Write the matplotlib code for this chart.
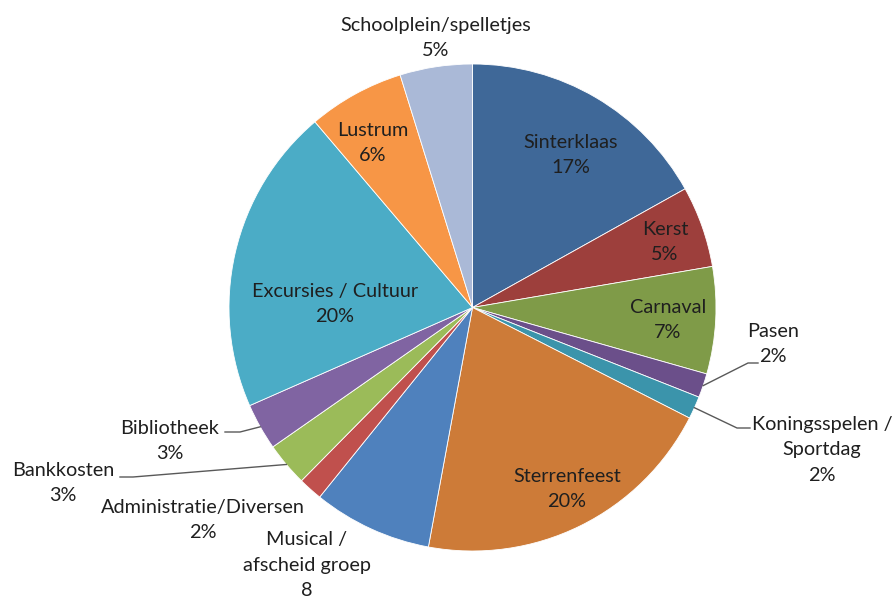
import numpy as np
import matplotlib.pyplot as plt

# budget shares per post (clockwise from 12 o'clock)
categories = ['Sinterklaas', 'Kerst', 'Carnaval', 'Pasen',
              'Koningsspelen /\nSportdag', 'Sterrenfeest',
              'Musical /\nafscheid groep', 'Administratie/Diversen',
              'Bankkosten', 'Bibliotheek', 'Excursies / Cultuur',
              'Lustrum', 'Schoolplein/spelletjes']
shares = [16.9, 5.4, 7.1, 1.6, 1.5, 20.4, 7.9, 1.6, 2.9, 3.1, 20.4, 6.4, 4.8]
pct_labels = ['17%', '5%', '7%', '2%', '2%', '20%', '8', '2%', '3%', '3%',
              '20%', '6%', '5%']

colors = ['#3F6898', '#9D3F3C', '#7F9B48', '#6B4F8A', '#3B94AB', '#CD7B38',
          '#4F81BD', '#C0504D', '#9BBB59', '#8064A2', '#4BACC6', '#F79646',
          '#AAB9D7']

W, H = 892, 601
cx, cy, R = 472.5, H - 307.5, 243.5

# label block centres in pixel coords (y from top)
label_pos = {
    'Sinterklaas': (571, 155),
    'Kerst': (665, 242),
    'Carnaval': (668, 320),
    'Pasen': (773, 344),
    'Koningsspelen /\nSportdag': (822, 450),
    'Sterrenfeest': (567, 489),
    'Musical /\nafscheid groep': (307, 565),
    'Administratie/Diversen': (203, 520),
    'Bankkosten': (63, 483),
    'Bibliotheek': (170, 441),
    'Excursies / Cultuur': (335, 304),
    'Lustrum': (373, 143),
    'Schoolplein/spelletjes': (436, 38),
}
# leader lines: elbow point and end point (pixel coords)
leaders = {
    'Pasen': [(748, 363), (758, 363)],
    'Koningsspelen /\nSportdag': [(737, 428), (750, 428)],
    'Bankkosten': [(133, 477), (120, 477)],
    'Bibliotheek': [(240, 432), (225, 432)],
}

plt.rcParams['font.family'] = ['Lato', 'DejaVu Sans']

fig = plt.figure(figsize=(W / 100, H / 100), dpi=100)
ax = fig.add_axes([0, 0, 1, 1])
wedges, _ = ax.pie(shares, colors=colors, startangle=90, counterclock=False,
                   center=(cx, cy), radius=R,
                   wedgeprops=dict(edgecolor='white', linewidth=0.6))
ax.set_xlim(0, W)
ax.set_ylim(0, H)
ax.set_aspect('equal')
ax.axis('off')

for name, pct, w in zip(categories, pct_labels, wedges):
    x, y = label_pos[name]
    ax.text(x, H - y, name + '\n' + pct, ha='center', va='center',
            fontsize=14.3, color='#1f1f1f', linespacing=1.6)
    if name in leaders:
        mid = np.deg2rad((w.theta1 + w.theta2) / 2)
        xs = [cx + R * np.cos(mid)] + [p[0] for p in leaders[name]]
        ys = [cy + R * np.sin(mid)] + [H - p[1] for p in leaders[name]]
        ax.plot(xs, ys, color='#595959', lw=1)

fig.savefig('out.png', dpi=100)
